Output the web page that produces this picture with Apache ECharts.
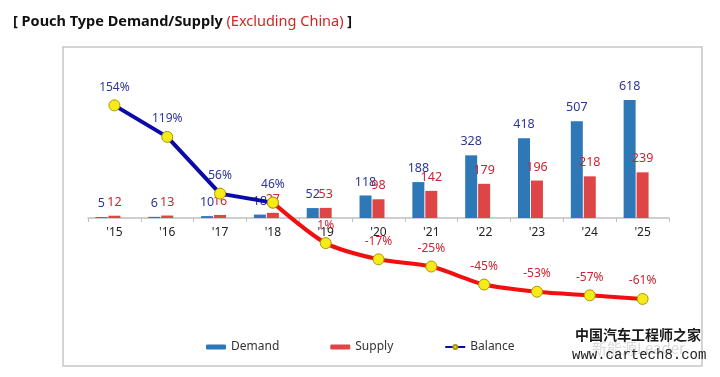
<!DOCTYPE html>
<html>
<head>
<meta charset="utf-8">
<script src="https://cdn.jsdelivr.net/npm/echarts@6/dist/echarts.min.js"></script>
<style>
html,body{margin:0;padding:0;background:#fff;}
#chart{width:720px;height:377px;}
</style>
</head>
<body>
<div id="chart"></div>
<script>
// ---- data ----
const categories = ["'15","'16","'17","'18","'19","'20","'21","'22","'23","'24","'25"];
const demand = [5, 6, 10, 18, 52, 118, 188, 328, 418, 507, 618];
const supply = [12, 13, 16, 27, 53, 98, 142, 179, 196, 218, 239];
const balance = [154, 119, 56, 46, 1, -17, -25, -45, -53, -57, -61];
const splitIndex = 3; // balance line turns red from '18 on

const balanceBlue = balance.map((v, i) => i <= splitIndex ? v : null);
const balanceRed = balance.map((v, i) => i >= splitIndex ? v : null);

const chart = echarts.init(document.getElementById('chart'), null, {renderer: 'canvas'});

const symbolStyle = {color: '#f7ea1a', borderColor: '#a89a00', borderWidth: 1};

chart.setOption({
  animation: false,
  backgroundColor: '#ffffff',
  title: {
    left: 8, top: 9,
    text: '{b|[ Pouch Type Demand/Supply }{r|(Excluding China)}{b| ]}',
    textStyle: {
      rich: {
        b: {fontFamily: 'Noto Sans', fontWeight: 'bold', fontSize: 14.5, color: '#111'},
        r: {fontFamily: 'Noto Sans', fontWeight: 'normal', fontSize: 14.5, color: '#d42424'}
      }
    }
  },
  legend: {
    left: 201, top: 336,
    itemWidth: 20, itemHeight: 5, itemGap: 51,
    textStyle: {fontFamily: 'Noto Sans', fontSize: 12, color: '#333'},
    data: ['Demand', 'Supply', 'Balance']
  },
  grid: [
    {left: 88, right: 51, top: 60, bottom: 159},
    {left: 88, right: 51, top: 60, bottom: 57}
  ],
  xAxis: [
    {
      type: 'category', gridIndex: 0,
      data: categories,
      boundaryGap: true,
      axisLine: {lineStyle: {color: '#bfbfbf', width: 1.5}},
      axisTick: {show: true, length: 4, lineStyle: {color: '#bfbfbf'}},
      axisLabel: {margin: 9, fontFamily: 'Noto Sans', fontSize: 12, color: '#222'},
      splitLine: {show: false}
    },
    {
      type: 'category', gridIndex: 1,
      data: categories,
      boundaryGap: true,
      show: false
    }
  ],
  yAxis: [
    {type: 'value', gridIndex: 0, show: false, min: 0, max: 827, splitLine: {show: false}},
    {type: 'value', gridIndex: 1, show: false, min: -84.4, max: 204.4, splitLine: {show: false}}
  ],
  series: [
    {
      name: 'Demand', type: 'bar', xAxisIndex: 0, yAxisIndex: 0, data: demand,
      barWidth: 12, barGap: '8%',
      itemStyle: {color: '#2e78b8'},
      label: {show: true, position: 'top', distance: 7, fontFamily: 'Noto Sans', fontSize: 12.5, color: '#2d3596'}
    },
    {
      name: 'Supply', type: 'bar', xAxisIndex: 0, yAxisIndex: 0, data: supply,
      barWidth: 12, barGap: '8%',
      itemStyle: {color: '#de4547'},
      label: {show: true, position: 'top', distance: 7, fontFamily: 'Noto Sans', fontSize: 12.5, color: '#cc2435'}
    },
    {
      name: '', type: 'bar', xAxisIndex: 0, yAxisIndex: 0, data: [],
      barWidth: 12, barGap: '8%'
    },
    {
      name: 'Balance', type: 'line', xAxisIndex: 1, yAxisIndex: 1, data: balanceBlue,
      z: 5,
      lineStyle: {color: '#0a0aa8', width: 4},
      itemStyle: Object.assign({}, symbolStyle),
      symbol: 'circle', symbolSize: 11, showAllSymbol: true,
      label: {show: true, position: 'top', distance: 6, fontFamily: 'Noto Sans', fontSize: 12, color: '#2d3596',
        formatter: p => p.value + '%'}
    },
    {
      name: 'Balance (after)', type: 'line', xAxisIndex: 1, yAxisIndex: 1, data: balanceRed,
      z: 4, smooth: 0.25,
      lineStyle: {color: '#f01010', width: 4},
      itemStyle: Object.assign({}, symbolStyle),
      symbol: 'circle', symbolSize: 11, showAllSymbol: true,
      label: {show: true, position: 'top', distance: 6, fontFamily: 'Noto Sans', fontSize: 12, color: '#cc2435',
        formatter: p => p.dataIndex === splitIndex ? '' : p.value + '%'}
    }
  ],
  graphic: [
    {type: 'rect', shape: {x: 63, y: 47, width: 639, height: 319}, style: {fill: 'none', stroke: '#c6c6c6', lineWidth: 1.5}, silent: true, z: -1},
    {type: 'text', left: 592, top: 341, style: {text: '新能源Leader', font: '15px "Noto Sans CJK SC"', fill: '#dadada'}, z: 1},
    {type: 'text', left: 575, top: 328, style: {text: '中国汽车工程师之家', font: 'bold 14px "Noto Sans CJK SC"', fill: '#1a1a1a'}, z: 2},
    {type: 'text', left: 572, top: 348, style: {text: 'www.cartech8.com', font: '14px "Liberation Mono"', fill: '#222'}, z: 2}
  ]
});
</script>
</body>
</html>
